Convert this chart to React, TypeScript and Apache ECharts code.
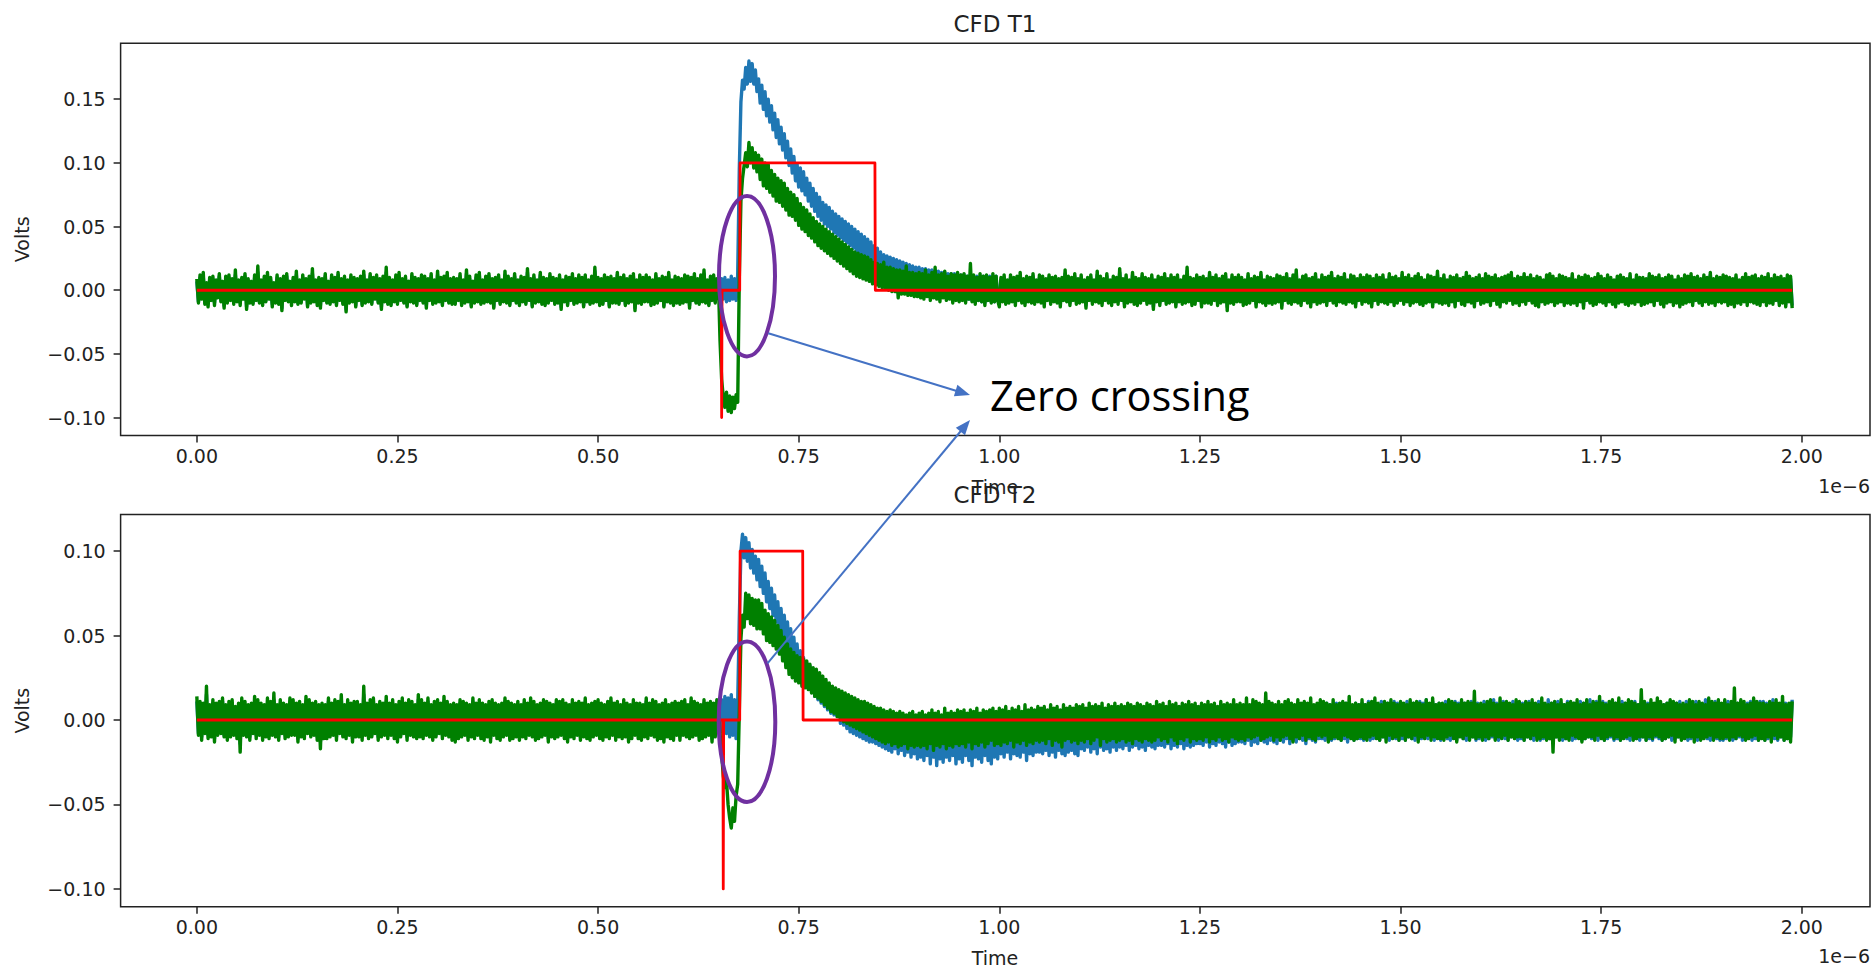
import React, { useEffect, useRef } from "react";
import * as echarts from "echarts";

// ---------------- data ----------------
// sample clock of the digitiser, in microseconds (axis shows 1e-6 s)
const SAMPLE_STEP_US = 0.002;

const X_TICKS = [0, 0.25, 0.5, 0.75, 1.0, 1.25, 1.5, 1.75, 2.0];
const T1_Y_TICKS = [-0.1, -0.05, 0, 0.05, 0.1, 0.15];
const T2_Y_TICKS = [-0.1, -0.05, 0, 0.05, 0.1];

// CFD T1 – input pulse (blue), millivolts, one value per sample (25 per row = 0.05 us)
const T1_BLUE_MV = [
  7, -9, 10, -6, 11, -10, 5, -11, 8, -7, 9, -10, 6, -5, 11, -8, 6, -12, 9, -9, 10, -7, 8, -9, 12,
  -8, 7, -10, 8, -6, 11, -13, 7, -9, 6, -10, 10, -7, 14, -9, 7, -10, 9, -8, 11, -6, 8, -11, 5, -9,
  10, -10, 8, -14, 9, -7, 11, -8, 6, -10, 8, -8, 12, -10, 7, -9, 10, -6, 8, -12, 9, -9, 13, -8, 7,
  -10, 8, -12, 8, -7, 11, -9, 6, -10, 10, -8, 8, -11, 12, -7, 8, -10, 9, -15, 7, -9, 10, -8, 8, -12,
  8, -7, 9, -11, 12, -9, 7, -8, 11, -10, 8, -6, 10, -9, 8, -13, 9, -8, 14, -10, 8, -11, 7, -8, 10,
  -10, 11, -7, 8, -9, 9, -12, 6, -8, 11, -9, 8, -11, 8, -7, 10, -9, 9, -12, 8, -7, 11, -10, 7, -9,
  12, -8, 8, -11, 9, -7, 12, -9, 8, -10, 8, -10, 8, -7, 11, -11, 7, -9, 13, -8, 9, -12, 6, -9, 10,
  -8, 12, -10, 7, -9, 9, -8, 11, -9, 8, -13, 8, -7, 10, -10, 7, -8, 12, -9, 9, -11, 8, -7, 11, -9,
  7, -11, 9, -8, 8, -10, 14, -7, 8, -12, 10, -9, 7, -8, 12, -10, 8, -11, 8, -9, 11, -7, 8, -10, 8,
  -9, 10, -13, 7, -8, 9, -11, 8, -7, 11, -10, 8, -9, 10, -8, 8, -12, 10, -8, 7, -10, 9, -9, 15, -8,
  8, -11, 8, -10, 10, -7, 8, -12, 9, -9, 8, -9, 12, -10, 8, -7, 10, -11, 8, -9, 9, -8, 11, -14, 7,
  -9, 10, -10, 8, -8, 10, -8, 8, -11, 7, -10, 11, -9, 8, -7, 9, -12, 8, -8, 12, -9, 7, -11, 9, -9,
  8, -10, 8, -9, 10, -8, 9, -12, 8, -7, 11, -9, 8, -10, 10, -8, 13, -9, 7, -11, 9, -7, 10, -9, 8,
  7, -8, 9, -7, 10, -9, 8, -8, 11, -7, 9, -8, 12, 95, 148, 165, 158, 175, 162, 180, 164, 178, 162, 173, 156,
  166, 147, 161, 142, 156, 137, 150, 132, 145, 126, 139, 120, 134, 115, 128, 110, 123, 104, 117, 98, 111, 92, 105, 86, 99,
  81, 96, 78, 93, 75, 88, 70, 84, 66, 80, 62, 76, 58, 73, 55, 69, 52, 67, 50, 65, 48, 62, 45, 60, 43,
  58, 41, 56, 39, 54, 37, 52, 35, 50, 33, 48, 31, 46, 29, 44, 27, 42, 25, 40, 23, 38, 21, 35, 18, 33,
  15, 30, 13, 28, 11, 27, 10, 26, 9, 25, 8, 24, 7, 23, 6, 22, 5, 21, 4, 20, 3, 19, 2, 18, 2,
  18, 0, 17, -1, 17, -1, 16, -2, 16, -2, 15, -3, 15, -3, 14, -4, 14, -4, 13, -4, 13, -5, 13, -5, 12,
  -6, 12, -7, 12, -8, 11, -7, 12, -8, 10, -9, 11, -8, 10, -9, 11, -10, 10, -8, 11, -9, 10, -9, 11, -8,
  -10, 8, -7, 10, -9, 7, -8, 10, -8, 9, -10, 9, -7, 11, -8, 8, -10, 9, -7, 8, -9, 11, -9, 7, -8,
  10, -8, 9, -11, 8, -7, 10, -9, 8, -8, 9, -9, 7, -11, 8, -7, 13, -8, 9, -10, 8, -7, 11, -9, 8,
  -8, 10, -8, 7, -12, 8, -7, 10, -9, 7, -8, 12, -9, 9, -10, 8, -7, 11, -8, 7, -10, 9, -8, 8, -9,
  14, -7, 8, -11, 10, -8, 7, -8, 12, -9, 8, -10, 8, -9, 11, -7, 8, -9, 8, -9, 10, -13, 7, -8, 9,
  -10, 8, -7, 11, -9, 8, -9, 10, -8, 8, -11, 10, -8, 7, -9, 9, -9, 15, -8, 8, -10, 8, -9, 10, -7,
  8, -11, 9, -9, 8, -8, 12, -9, 8, -7, 10, -10, 8, -9, 9, -8, 11, -13, 7, -8, 10, -9, 8, -8, 10,
  -8, 8, -10, 7, -9, 11, -8, 8, -7, 9, -11, 8, -8, 12, -8, 7, -10, 9, -9, 8, -9, 8, -9, 10, -8,
  9, -12, 8, -7, 11, -8, 8, -9, 10, -8, 13, -9, 7, -10, 9, -7, 10, -8, 8, -11, 8, -8, 11, -9, 7,
  -8, 10, -8, 8, -10, 9, -7, 12, -8, 8, -10, 9, -8, 8, -9, 11, -9, 7, -8, 10, -9, 9, -11, 8, -7,
  10, -9, 8, -8, 10, -9, 9, -11, 8, -7, 10, -9, 8, -8, 10, -8, 7, -9, 11, -8, 8, -10, 9, -9, 8,
  -7, 12, -9, 8, -8, 10, -10, 8, -9, 9, -8, 11, -9, 8, -10, 7, -8, 10, -8, 9, -11, 8, -8, 12, -9,
  8, -9, 10, -9, 7, -10, 9, -8, 8, -11, 10, -7, 8, -9, 8, -10, 12, -8, 9, -9, 8, -11, 8, -7, 10,
  -9, 8, -9, 11, -8, 9, -10, 8, -7, 10, -9, 8, -11, 8, -8, 9, -8, 10, -7, 12, -9, 8, -9, 9, -10,
  8, -8, 11, -9, 8, -7, 10, -9, 8, -10, 9, -11, 8, -8, 7, -9, 10, -9, 11, -8, 9, -10, 8, -9, 10,
  -8, 9, -10, 8, -9, 8, -9, 11, -9, 7, -10, 9, -8, 8, -12, 10, -7, 9, -9, 8, -10, 8, -9, 11, -8,
  9, -9, 8, -10, 10, -8, 8, -9, 7, -11, 9, -9, 10, -8, 8, -9, 8, -10, 11, -9, 7, -9, 10, -8, 8,
  -10, 8, -9, 8, -9, 11, -8, 9, -10, 8, -7, 10, -9, 8, -11, 8, -9, 10, -8, 9, -10, 7, -9, 9, -11,
  8, -9, 10, -9, 9, -8, 11, -10, 8, -7, 9, -9, 8, -10, 10, -8, 8, -9, 12, -9, 8, -10, 9, -8, 8,
  -9, 10, -8, 9, -10, 8, -9, 8, -11, 10, -9, 7, -9, 8, -8, 11, -10, 8, -8, 9, -9, 10, -9, 8, -10,
  9, -8, 8, -10, 11, -9, 8, -9, 10, -7, 8, -10, 9, -9, 8, -11, 10, -8, 9, -12,
];

// CFD T1 – shaped CFD signal (green), millivolts
const T1_GREEN_MV = [
  9, -10, 12, -7, 14, -11, 6, -13, 10, -8, 11, -12, 8, -6, 13, -9, 7, -14, 11, -10, 12, -8, 9, -11, 16,
  -9, 8, -12, 10, -7, 13, -15, 9, -10, 7, -11, 12, -8, 19, -10, 8, -12, 11, -9, 14, -7, 10, -13, 6, -10,
  12, -11, 9, -16, 11, -8, 13, -9, 7, -12, 10, -9, 15, -11, 8, -10, 12, -7, 9, -13, 11, -10, 17, -9, 8,
  -12, 10, -14, 9, -8, 13, -10, 7, -11, 12, -9, 10, -12, 14, -8, 9, -11, 11, -17, 8, -10, 12, -9, 10, -13,
  9, -8, 11, -12, 15, -10, 8, -9, 13, -11, 10, -7, 12, -10, 9, -15, 11, -9, 18, -11, 10, -12, 8, -9, 12,
  -11, 14, -8, 9, -10, 11, -13, 7, -9, 13, -10, 10, -12, 9, -8, 12, -10, 11, -14, 9, -8, 13, -11, 8, -10,
  15, -9, 10, -12, 11, -8, 14, -10, 9, -11, 10, -11, 9, -8, 13, -12, 8, -10, 16, -9, 11, -13, 7, -10, 12,
  -9, 14, -11, 8, -10, 11, -9, 13, -10, 9, -14, 10, -8, 12, -11, 8, -9, 15, -10, 11, -12, 9, -8, 13, -10,
  8, -12, 11, -9, 10, -11, 17, -8, 9, -13, 12, -10, 8, -9, 14, -11, 10, -12, 9, -10, 13, -8, 10, -11, 9,
  -10, 12, -15, 8, -9, 11, -12, 10, -8, 13, -11, 9, -10, 12, -9, 10, -13, 12, -9, 8, -11, 11, -10, 18, -9,
  10, -12, 9, -11, 12, -8, 10, -13, 11, -10, 9, -10, 14, -11, 10, -8, 12, -12, 9, -10, 11, -9, 13, -16, 8,
  -10, 12, -11, 10, -9, 12, -9, 10, -12, 8, -11, 13, -10, 9, -8, 11, -13, 10, -9, 14, -10, 8, -12, 11, -10,
  10, -11, 9, -10, 12, -9, 11, -14, 10, -8, 13, -10, 9, -11, 12, -9, 16, -10, 8, -12, 11, -8, 12, -10, 9,
  5, -40, -70, -84, -92, -80, -95, -83, -96, -84, -93, -82, -88, 10, 70, 88, 98, 108, 97, 116, 100, 112, 96, 108, 93,
  106, 87, 103, 82, 100, 80, 99, 77, 94, 74, 91, 70, 88, 69, 86, 66, 84, 63, 80, 59, 77, 58, 75, 55, 72,
  51, 68, 48, 65, 46, 63, 43, 60, 41, 57, 38, 54, 35, 52, 33, 50, 31, 48, 29, 46, 27, 44, 25, 42, 23,
  40, 21, 38, 19, 36, 17, 34, 15, 32, 13, 30, 11, 29, 10, 28, 9, 27, 8, 26, 7, 24, 5, 22, 4, 21,
  3, 20, 2, 22, 1, 18, 0, 18, -1, 17, -1, 16, -6, 16, -3, 15, -3, 19, -4, 14, -4, 14, -5, 13, -5,
  14, -6, 13, -7, 16, -5, 12, -8, 14, -6, 18, -7, 12, -9, 13, -6, 15, -8, 11, -7, 13, -10, 12, -8, 14,
  -9, 12, -8, 13, -10, 11, -7, 21, -9, 12, -11, 10, -8, 13, -9, 11, -12, 12, -8, 10, -10, 13, -9, 11, -8,
  -13, 10, -9, 12, -11, 8, -10, 12, -9, 10, -12, 11, -8, 14, -10, 9, -12, 11, -9, 10, -10, 13, -11, 8, -9,
  12, -10, 11, -13, 9, -8, 12, -11, 10, -9, 11, -10, 9, -13, 10, -8, 16, -9, 11, -12, 10, -8, 13, -11, 9,
  -10, 12, -9, 8, -14, 10, -8, 12, -11, 8, -9, 15, -10, 11, -12, 9, -8, 13, -10, 8, -12, 11, -9, 10, -11,
  17, -8, 9, -13, 12, -10, 8, -9, 14, -11, 10, -12, 9, -10, 13, -8, 10, -11, 9, -10, 12, -15, 8, -9, 11,
  -12, 10, -8, 13, -11, 9, -10, 12, -9, 10, -13, 12, -9, 8, -11, 11, -10, 18, -9, 10, -12, 9, -11, 12, -8,
  10, -13, 11, -10, 9, -10, 14, -11, 10, -8, 12, -12, 9, -10, 11, -9, 13, -16, 8, -10, 12, -11, 10, -9, 12,
  -9, 10, -12, 8, -11, 13, -10, 9, -8, 11, -13, 10, -9, 14, -10, 8, -12, 11, -10, 10, -11, 9, -10, 12, -9,
  11, -14, 10, -8, 13, -10, 9, -11, 12, -9, 16, -10, 8, -12, 11, -8, 12, -10, 9, -13, 10, -9, 13, -11, 8,
  -10, 12, -9, 10, -12, 11, -8, 14, -10, 9, -12, 11, -9, 10, -10, 13, -11, 8, -9, 12, -10, 11, -13, 9, -8,
  12, -11, 10, -9, 12, -10, 11, -13, 9, -8, 12, -11, 10, -9, 12, -10, 8, -11, 13, -9, 10, -12, 11, -10, 9,
  -8, 14, -11, 10, -9, 12, -12, 9, -10, 11, -9, 13, -11, 10, -12, 8, -10, 12, -9, 11, -13, 10, -9, 15, -10,
  9, -11, 12, -10, 8, -12, 11, -9, 10, -13, 12, -8, 9, -11, 10, -12, 14, -9, 11, -10, 9, -13, 10, -8, 12,
  -11, 9, -10, 13, -9, 11, -12, 10, -8, 12, -11, 9, -13, 10, -9, 11, -10, 12, -8, 14, -11, 9, -10, 11, -12,
  10, -9, 13, -11, 10, -8, 12, -10, 9, -12, 11, -13, 10, -9, 8, -11, 12, -10, 13, -9, 11, -12, 9, -10, 12,
  -9, 11, -12, 10, -10, 9, -11, 13, -10, 8, -12, 11, -9, 10, -14, 12, -8, 11, -10, 9, -12, 10, -11, 13, -9,
  11, -10, 9, -12, 12, -9, 10, -11, 8, -13, 11, -10, 12, -9, 10, -11, 9, -12, 13, -10, 8, -11, 12, -9, 10,
  -12, 10, -11, 9, -10, 13, -9, 11, -12, 10, -8, 12, -11, 9, -13, 10, -10, 12, -9, 11, -12, 8, -10, 11, -13,
  9, -11, 12, -10, 11, -9, 13, -12, 10, -8, 11, -10, 9, -12, 12, -9, 10, -11, 14, -10, 9, -12, 11, -9, 10,
  -10, 12, -9, 11, -12, 10, -11, 9, -13, 12, -10, 8, -11, 10, -9, 13, -12, 10, -9, 11, -10, 12, -11, 9, -12,
  11, -9, 10, -12, 13, -10, 9, -11, 12, -8, 10, -12, 11, -10, 9, -13, 12, -9, 11, -14,
];

// CFD T2 – input pulse (blue), millivolts
const T2_BLUE_MV = [
  11, -8, 9, -10, 8, -7, 15, -9, 7, -9, 10, -11, 8, -8, 9, -7, 11, -9, 8, -10, 9, -8, 10, -8, 7,
  -9, 8, -14, 10, -8, 9, -9, 8, -10, 9, -7, 11, -9, 10, -8, 8, -10, 8, -9, 10, -9, 9, -8, 12, -9,
  8, -10, 10, -7, 9, -9, 8, -9, 11, -8, 10, -8, 9, -11, 9, -9, 8, -9, 11, -7, 10, -9, 9, -8, 9,
  -10, 8, -13, 9, -9, 8, -10, 11, -9, 9, -8, 10, -10, 9, -7, 12, -9, 8, -9, 10, -8, 9, -11, 9, -9,
  9, -9, 8, -10, 15, -8, 9, -9, 10, -9, 11, -7, 8, -10, 9, -9, 9, -8, 11, -9, 9, -8, 10, -9, 8,
  -11, 9, -9, 11, -7, 9, -10, 10, -8, 9, -9, 8, -9, 12, -9, 10, -9, 9, -8, 11, -9, 8, -10, 9, -9,
  10, -7, 9, -9, 11, -8, 9, -9, 8, -10, 9, -11, 8, -9, 10, -9, 9, -8, 9, -10, 8, -9, 11, -9, 9,
  -8, 10, -9, 9, -10, 8, -9, 9, -11, 10, -8, 9, -9, 8, -10, 9, -9, 11, -8, 9, -10, 9, -9, 8, -9,
  9, -10, 8, -9, 10, -9, 9, -8, 11, -9, 9, -10, 8, -9, 9, -9, 10, -8, 9, -11, 9, -9, 8, -9, 10,
  -9, 9, -8, 10, -9, 9, -11, 8, -9, 10, -9, 9, -8, 9, -10, 9, -9, 11, -9, 8, -10, 9, -9, 9, -8,
  10, -9, 9, -10, 8, -9, 9, -9, 11, -8, 9, -10, 9, -9, 8, -9, 10, -9, 9, -11, 8, -9, 10, -8, 9,
  -9, 9, -10, 8, -9, 11, -9, 9, -8, 10, -9, 9, -10, 8, -9, 9, -11, 10, -9, 8, -9, 9, -10, 9, -8,
  9, -10, 9, -8, 10, -9, 8, -9, 11, -9, 9, -8, 9, -10, 8, -9, 10, -9, 9, -8, 9, -11, 9, -9, 10,
  8, -7, 12, -9, 14, -8, 13, -10, 15, -9, 12, -11, 10, 60, 100, 110, 96, 108, 94, 105, 90, 101, 87, 97, 83,
  95, 79, 91, 75, 87, 70, 82, 66, 78, 62, 74, 58, 70, 54, 66, 50, 62, 46, 58, 42, 54, 38, 49, 33, 45,
  29, 41, 25, 37, 21, 34, 19, 32, 17, 29, 14, 27, 12, 25, 10, 23, 8, 21, 6, 19, 4, 17, 3, 16, 2,
  15, -2, 14, -3, 12, -5, 10, -7, 9, -8, 8, -9, 7, -10, 6, -11, 5, -12, 4, -13, 3, -13, 2, -14, 1,
  -15, 0, -16, -1, -17, 0, -18, -1, -19, -2, -17, -1, -20, -2, -18, -1, -21, -3, -19, -2, -22, -1, -20, -3, -23,
  -2, -22, -1, -24, -3, -21, 0, -26, -2, -22, -1, -27, -3, -23, -1, -25, -2, -22, 0, -24, -3, -21, -1, -26, -2,
  -23, -1, -25, -2, -21, 0, -24, -3, -27, -1, -22, -2, -23, 0, -25, -1, -21, -2, -24, -1, -26, 0, -22, -2, -23,
  0, -20, 1, -22, -1, -19, 2, -23, 0, -20, 1, -21, -1, -22, 2, -19, 0, -24, 1, -20, -1, -21, 0, -19, 1,
  -19, 1, -20, 2, -18, 0, -21, 1, -19, 3, -22, 1, -18, 2, -20, 0, -21, 2, -19, 1, -18, 3, -20, 1, -21,
  3, -17, 2, -18, 4, -16, 1, -19, 3, -17, 2, -20, 4, -16, 3, -18, 2, -17, 5, -19, 3, -16, 2, -18, 4,
  -16, 4, -17, 3, -15, 5, -18, 4, -16, 6, -15, 3, -17, 5, -16, 4, -18, 3, -15, 5, -16, 4, -17, 6, -15,
  5, -15, 4, -16, 6, -14, 3, -17, 5, -15, 4, -16, 6, -14, 5, -17, 3, -15, 6, -16, 4, -15, 5, -14, 6,
  -14, 6, -15, 5, -13, 7, -16, 4, -14, 6, -15, 5, -13, 7, -14, 6, -16, 5, -13, 6, -15, 7, -14, 5, -13,
  7, -13, 6, -14, 8, -12, 5, -15, 7, -13, 6, -14, 8, -12, 7, -13, 5, -14, 8, -12, 6, -13, 7, -14, 8,
  -12, 8, -13, 7, -11, 9, -14, 8, -12, 7, -13, 9, -11, 8, -12, 7, -14, 9, -11, 8, -12, 7, -13, 9, -11,
  9, -11, 8, -12, 10, -10, 9, -12, 8, -11, 10, -10, 9, -12, 8, -11, 10, -13, 9, -10, 8, -12, 10, -11, 9,
  -11, 10, -12, 9, -10, 11, -12, 9, -11, 10, -10, 9, -12, 11, -10, 9, -11, 10, -12, 9, -10, 11, -11, 10, -12,
  10, -11, 9, -12, 11, -10, 9, -11, 10, -12, 9, -10, 11, -11, 10, -9, 12, -11, 9, -10, 11, -12, 9, -10, 10,
  -12, 9, -10, 11, -11, 10, -12, 9, -10, 11, -12, 10, -9, 11, -11, 10, -12, 9, -10, 11, -10, 9, -12, 10, -11,
  9, -10, 11, -12, 10, -11, 9, -10, 12, -11, 10, -12, 9, -10, 11, -11, 10, -12, 9, -10, 11, -10, 9, -12, 10,
  -11, 10, -12, 9, -10, 11, -11, 10, -12, 9, -10, 11, -12, 10, -11, 9, -10, 12, -11, 10, -12, 9, -10, 11, -11,
  10, -12, 9, -11, 11, -10, 9, -12, 10, -11, 9, -10, 11, -12, 10, -11, 9, -10, 12, -11, 10, -9, 11, -12, 10,
  -10, 11, -12, 10, -11, 9, -10, 11, -12, 10, -11, 9, -12, 11, -10, 10, -11, 9, -12, 10, -10, 11, -11, 9, -12,
  11, -10, 9, -12, 10, -11, 10, -12, 9, -10, 11, -11, 10, -12, 9, -11, 10, -10, 11, -12, 9, -11, 10, -10, 11,
  -11, 9, -10, 11, -12, 10, -11, 9, -10, 11, -12, 10, -11, 9, -10, 12, -11, 10, -12, 9, -10, 11, -11, 10, -12,
  9, -12, 10, -11, 11, -10, 9, -12, 10, -11, 10, -10, 11, -12, 9, -11, 10, -10, 11, -12, 10, -11, 9, -12, 11,
  -10, 11, -12, 10, -11, 9, -10, 12, -11, 10, -12, 9, -10, 11, -12, 10, -11, 9, -10, 12,
];

// CFD T2 – shaped CFD signal (green), millivolts
const T2_GREEN_MV = [
  14, -9, 11, -12, 10, -8, 20, -11, 9, -10, 12, -13, 10, -9, 11, -8, 13, -10, 9, -12, 11, -10, 12, -9, 8,
  -11, 10, -19, 13, -9, 11, -10, 9, -12, 10, -8, 14, -11, 12, -9, 10, -12, 9, -10, 13, -11, 11, -9, 16, -10,
  9, -12, 12, -8, 10, -11, 9, -10, 13, -9, 12, -9, 10, -13, 11, -10, 9, -11, 14, -8, 12, -10, 10, -9, 11,
  -12, 9, -17, 10, -11, 9, -11, 13, -10, 10, -9, 12, -12, 11, -8, 15, -10, 9, -11, 12, -9, 10, -13, 11, -10,
  11, -10, 9, -12, 20, -9, 10, -11, 12, -10, 13, -8, 9, -12, 11, -10, 10, -9, 14, -11, 10, -9, 12, -11, 9,
  -13, 11, -10, 13, -8, 10, -12, 12, -9, 11, -10, 9, -11, 15, -10, 12, -11, 10, -9, 13, -10, 9, -12, 11, -10,
  12, -8, 10, -11, 14, -9, 11, -10, 9, -12, 10, -13, 9, -11, 12, -10, 11, -9, 10, -12, 9, -10, 13, -11, 10,
  -9, 12, -11, 10, -12, 9, -10, 11, -13, 12, -9, 10, -11, 9, -12, 10, -10, 13, -9, 11, -12, 10, -11, 9, -10,
  11, -12, 9, -10, 12, -11, 10, -9, 13, -10, 11, -12, 9, -11, 10, -10, 12, -9, 11, -13, 10, -10, 9, -11, 12,
  -10, 11, -9, 12, -11, 10, -13, 9, -10, 12, -11, 10, -9, 11, -12, 10, -10, 13, -11, 9, -12, 10, -10, 11, -9,
  12, -11, 10, -12, 9, -10, 11, -11, 13, -9, 10, -12, 11, -10, 9, -11, 12, -10, 10, -13, 9, -11, 12, -9, 10,
  -11, 10, -12, 9, -10, 13, -11, 10, -9, 12, -10, 11, -12, 9, -11, 10, -13, 12, -10, 9, -11, 10, -12, 11, -9,
  10, -12, 11, -9, 12, -10, 9, -11, 13, -10, 11, -9, 10, -12, 9, -11, 12, -10, 10, -9, 11, -13, 10, -10, 12,
  4, -8, -20, -33, -40, -36, -50, -58, -64, -52, -60, -45, -38, 5, 48, 62, 55, 75, 60, 74, 57, 72, 56, 71, 54,
  71, 54, 69, 51, 65, 47, 63, 46, 61, 44, 59, 42, 56, 39, 53, 35, 49, 31, 45, 27, 42, 25, 40, 23, 38,
  22, 37, 20, 36, 19, 35, 18, 33, 16, 31, 14, 30, 13, 28, 11, 26, 9, 24, 7, 22, 5, 20, 4, 19, 2,
  18, 0, 17, -1, 16, -2, 15, -3, 14, -4, 13, -5, 12, -6, 11, -7, 11, -8, 10, -9, 9, -10, 8, -11, 7,
  -12, 7, -13, 6, -14, 5, -13, 6, -15, 5, -14, 4, -16, 5, -15, 4, -14, 3, -17, 4, -15, 5, -16, 3, -15,
  4, -16, 5, -15, 3, -17, 4, -14, 6, -18, 4, -15, 5, -16, 3, -14, 7, -17, 4, -15, 5, -16, 4, -14, 6,
  -15, 5, -14, 6, -16, 4, -13, 6, -17, 5, -14, 7, -15, 4, -13, 6, -16, 5, -14, 6, -12, 7, -15, 5, -14,
  7, -15, 6, -13, 8, -14, 5, -12, 7, -16, 6, -13, 8, -14, 5, -12, 9, -15, 6, -13, 7, -14, 6, -12, 8,
  -13, 7, -12, 8, -14, 6, -11, 9, -15, 7, -12, 8, -13, 6, -16, 9, -12, 7, -11, 8, -13, 7, -12, 9, -14,
  8, -12, 9, -13, 7, -11, 10, -14, 8, -12, 9, -10, 8, -15, 10, -11, 7, -13, 9, -12, 8, -11, 10, -13, 8,
  -12, 9, -11, 8, -13, 10, -12, 9, -14, 8, -11, 10, -12, 9, -13, 8, -11, 10, -12, 9, -13, 8, -12, 11, -10,
  9, -12, 10, -11, 8, -13, 11, -10, 9, -12, 10, -14, 8, -11, 10, -12, 9, -10, 11, -13, 9, -11, 10, -12, 8,
  -11, 10, -12, 9, -10, 11, -13, 9, -11, 10, -12, 8, -10, 11, -12, 9, -11, 10, -13, 9, -10, 12, -11, 9, -12,
  10, -11, 9, -12, 13, -10, 9, -11, 12, -10, 11, -9, 10, -12, 9, -11, 16, -10, 11, -9, 10, -12, 9, -10, 11,
  -12, 9, -10, 11, -9, 12, -11, 10, -13, 9, -10, 12, -11, 10, -9, 11, -12, 10, -10, 13, -11, 9, -12, 10, -9,
  12, -10, 11, -9, 10, -13, 9, -11, 12, -10, 9, -11, 10, -12, 11, -9, 10, -10, 14, -11, 9, -12, 10, -11, 9,
  -10, 12, -11, 9, -12, 10, -10, 11, -9, 13, -11, 10, -12, 9, -10, 11, -13, 10, -9, 12, -11, 10, -10, 9, -12,
  11, -9, 10, -12, 9, -10, 12, -11, 10, -9, 11, -13, 10, -10, 9, -11, 12, -9, 10, -12, 13, -10, 9, -11, 10,
  -11, 10, -12, 9, -10, 12, -9, 11, -11, 10, -13, 9, -10, 12, -11, 10, -9, 11, -12, 10, -10, 17, -11, 9, -10,
  10, -12, 9, -10, 11, -11, 12, -9, 10, -12, 9, -10, 13, -11, 10, -9, 11, -12, 10, -10, 9, -11, 12, -10, 11,
  -10, 9, -12, 11, -10, 10, -11, 12, -9, 10, -12, 9, -11, 13, -10, 10, -12, 9, -11, 10, -19, 11, -10, 9, -12,
  12, -10, 9, -11, 10, -12, 11, -9, 10, -10, 12, -11, 9, -13, 10, -11, 12, -10, 9, -10, 11, -12, 10, -9, 14,
  -11, 10, -12, 9, -10, 11, -9, 12, -11, 10, -10, 13, -12, 9, -11, 10, -10, 12, -9, 11, -12, 10, -11, 9, -10,
  18, -10, 11, -12, 9, -10, 12, -11, 10, -9, 13, -10, 11, -12, 9, -11, 10, -10, 12, -9, 11, -13, 10, -10, 9,
  -12, 10, -11, 9, -10, 12, -10, 11, -13, 9, -10, 11, -12, 10, -11, 9, -10, 13, -9, 11, -12, 10, -10, 12, -11,
  10, -11, 12, -10, 9, -12, 11, -10, 19, -11, 10, -9, 12, -10, 11, -12, 9, -11, 10, -10, 13, -9, 11, -12, 10,
  -11, 10, -12, 9, -10, 11, -13, 10, -9, 12, -11, 10, -10, 14, -12, 9, -11, 10, -13, 11,
];

// CFD logic outputs (red): corner points of the step traces
const T1_CFD_T = [0, 0.6535, 0.654, 0.6545, 0.6765, 0.677, 0.845, 0.8455, 1.988];
const T1_CFD_V = [0, 0, -0.1, 0, 0, 0.1, 0.1, 0, 0];
const T2_CFD_T = [0, 0.6555, 0.656, 0.6565, 0.6765, 0.677, 0.755, 0.7555, 1.988];
const T2_CFD_V = [0, 0, -0.1, 0, 0, 0.1, 0.1, 0, 0];

// ---------------- styling / layout ----------------
const FONT = "DejaVu Sans";
const INK = "#222";
const BLUE = "#1f77b4";
const GREEN = "#008000";
const RED = "#ff0000";
const LW = 3.4;
const LW_RED = 2.8;

const GRID_LEFT = 120.6;
const GRID_W = 1749.4;
const GRID_H = 392.2;
const TOP1 = 43.2;
const TOP2 = 514.6;

const mvToPairs = (mv: number[]) =>
  mv.map((v, i) => [+(i * SAMPLE_STEP_US).toFixed(4), v / 1000]);
const zipPairs = (t: number[], v: number[]) => t.map((x, i) => [x, v[i]]);

const fmtY = (v: number) =>
  v < 0 ? "\u2212" + Math.abs(v).toFixed(2) : Math.abs(v).toFixed(2);

function xAxisCfg(gridIndex: number) {
  return {
    type: "value",
    gridIndex,
    min: -0.095,
    max: 2.085,
    axisLine: { show: false, onZero: false },
    splitLine: { show: false },
    axisTick: {
      show: true,
      inside: false,
      length: 7,
      customValues: X_TICKS,
      lineStyle: { color: INK, width: 1.5 },
    },
    axisLabel: {
      show: true,
      customValues: X_TICKS,
      formatter: (v: number) => v.toFixed(2),
      margin: 11,
      fontSize: 19,
      fontFamily: FONT,
      color: INK,
    },
  };
}

function yAxisCfg(gridIndex: number, min: number, max: number, ticks: number[]) {
  return {
    type: "value",
    gridIndex,
    min,
    max,
    axisLine: { show: false, onZero: false },
    splitLine: { show: false },
    axisTick: {
      show: true,
      inside: false,
      length: 7,
      customValues: ticks,
      lineStyle: { color: INK, width: 1.5 },
    },
    axisLabel: {
      show: true,
      customValues: ticks,
      formatter: fmtY,
      margin: 15,
      fontSize: 19,
      fontFamily: FONT,
      color: INK,
    },
  };
}

function lineSeries(
  name: string,
  idx: number,
  data: number[][],
  color: string,
  z: number,
  width: number
) {
  return {
    name,
    type: "line",
    xAxisIndex: idx,
    yAxisIndex: idx,
    data,
    showSymbol: false,
    symbol: "none",
    silent: true,
    z,
    lineStyle: { color, width, join: "round" },
    itemStyle: { color },
  };
}

function textEl(text: string, x: number, y: number, size: number, extra: any = {}) {
  return {
    type: "text",
    x,
    y,
    z: 100,
    silent: true,
    ...extra,
    style: {
      text,
      fontSize: size,
      fontFamily: extra.fontFamily || FONT,
      fill: extra.fill || INK,
      align: extra.align || "center",
      textAlign: extra.align || "center",
      verticalAlign: "middle",
      textVerticalAlign: "middle",
    },
  };
}

function arrowEls(tail: number[], tip: number[], color: string) {
  const dx = tip[0] - tail[0];
  const dy = tip[1] - tail[1];
  const len = Math.hypot(dx, dy);
  const ux = dx / len;
  const uy = dy / len;
  const headLen = 15;
  const halfW = 6;
  const bx = tip[0] - ux * headLen;
  const by = tip[1] - uy * headLen;
  const px = -uy;
  const py = ux;
  return [
    {
      type: "line",
      z: 100,
      silent: true,
      shape: { x1: tail[0], y1: tail[1], x2: bx + ux * 2, y2: by + uy * 2 },
      style: { stroke: color, lineWidth: 2 },
    },
    {
      type: "polygon",
      z: 100,
      silent: true,
      shape: {
        points: [
          [tip[0], tip[1]],
          [bx + px * halfW, by + py * halfW],
          [bx - px * halfW, by - py * halfW],
        ],
      },
      style: { fill: color, stroke: "none" },
    },
  ];
}

function buildOption() {
  const gridCommon = {
    left: GRID_LEFT,
    width: GRID_W,
    height: GRID_H,
    show: true,
    borderColor: INK,
    borderWidth: 1.5,
    backgroundColor: "transparent",
    containLabel: false,
    outerBoundsMode: "none",
  };
  const PURPLE = "#7030A0";
  const ARROW = "#4472C4";
  return {
    animation: false,
    backgroundColor: "#ffffff",
    grid: [
      { ...gridCommon, top: TOP1 },
      { ...gridCommon, top: TOP2 },
    ],
    xAxis: [xAxisCfg(0), xAxisCfg(1)],
    yAxis: [
      yAxisCfg(0, -0.114, 0.194, T1_Y_TICKS),
      yAxisCfg(1, -0.1106, 0.1216, T2_Y_TICKS),
    ],
    series: [
      lineSeries("T1 input", 0, mvToPairs(T1_BLUE_MV), BLUE, 2, LW),
      lineSeries("T1 CFD", 0, mvToPairs(T1_GREEN_MV), GREEN, 3, LW),
      lineSeries("T1 logic", 0, zipPairs(T1_CFD_T, T1_CFD_V), RED, 4, LW_RED),
      lineSeries("T2 input", 1, mvToPairs(T2_BLUE_MV), BLUE, 2, LW),
      lineSeries("T2 CFD", 1, mvToPairs(T2_GREEN_MV), GREEN, 3, LW),
      lineSeries("T2 logic", 1, zipPairs(T2_CFD_T, T2_CFD_V), RED, 4, LW_RED),
    ],
    graphic: {
      elements: [
        textEl("CFD T1", 995, 23.5, 23),
        textEl("CFD T2", 995, 494.7, 23),
        textEl("Time", 995, 487, 19),
        textEl("Time", 995, 958, 19),
        textEl("1e\u22126", 1870, 486, 19, { align: "right" }),
        textEl("1e\u22126", 1870, 956, 19, { align: "right" }),
        textEl("Volts", 22, TOP1 + GRID_H / 2, 19, { rotation: Math.PI / 2 }),
        textEl("Volts", 22, TOP2 + GRID_H / 2, 19, { rotation: Math.PI / 2 }),
        {
          type: "ellipse",
          z: 100,
          silent: true,
          shape: { cx: 747, cy: 276.2, rx: 28, ry: 80.2 },
          style: { fill: "none", stroke: PURPLE, lineWidth: 4 },
        },
        {
          type: "ellipse",
          z: 100,
          silent: true,
          shape: { cx: 747, cy: 721.7, rx: 28.3, ry: 80.3 },
          style: { fill: "none", stroke: PURPLE, lineWidth: 4 },
        },
        ...arrowEls([768.3, 333.3], [970, 395], ARROW),
        ...arrowEls([767.5, 663.3], [970, 420], ARROW),
        textEl("Zero crossing", 990, 395, 41.5, {
          align: "left",
          fontFamily: "Open Sans",
          fill: "#000",
        }),
      ],
    },
  };
}

export default function App() {
  const ref = useRef<HTMLDivElement>(null);
  useEffect(() => {
    if (!ref.current) return;
    const chart = echarts.init(ref.current, null, { renderer: "svg" });
    chart.setOption(buildOption() as any);
    return () => {
      chart.dispose();
    };
  }, []);
  return (
    <div
      ref={ref}
      style={{
        position: "fixed",
        left: 0,
        top: 0,
        width: 1872,
        height: 969,
        background: "#ffffff",
      }}
    />
  );
}
